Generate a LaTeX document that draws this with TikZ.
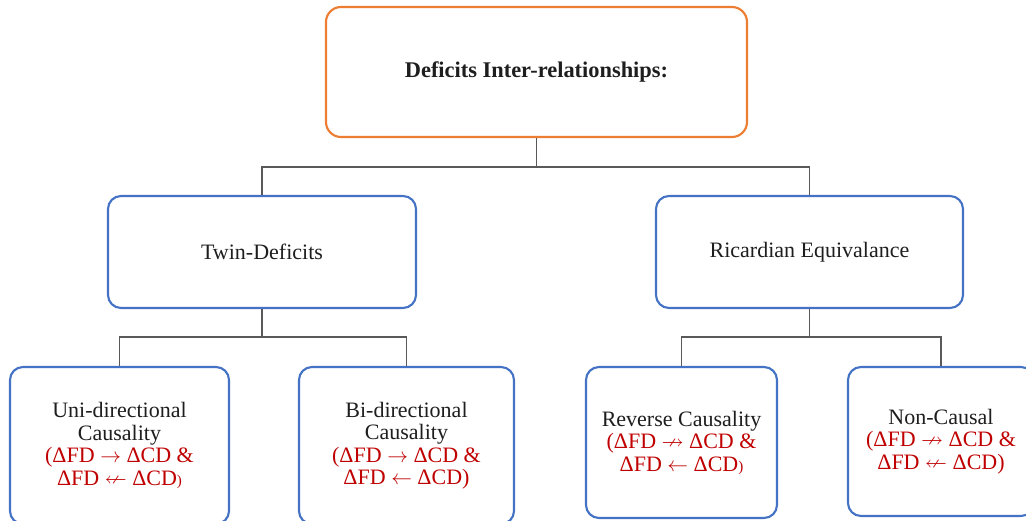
\documentclass[tikz,border=0pt]{standalone}
\usepackage{fontspec}
\usepackage{amssymb}
\setmainfont{Liberation Serif}
\definecolor{orng}{HTML}{ED7D31}
\definecolor{blu}{HTML}{4472C4}
\definecolor{redt}{HTML}{C00000}
\definecolor{conn}{HTML}{595959}
\definecolor{txt}{HTML}{1E1E1E}
\newcommand{\ra}{$\rightarrow$}
\newcommand{\la}{$\leftarrow$}
\newcommand{\nra}{$\nrightarrow$}
\newcommand{\nla}{$\nleftarrow$}
\newcommand{\smp}{{\fontsize{15}{15}\selectfont )}}
\begin{document}
\begin{tikzpicture}[x=1pt,y=1pt,
  box/.style={draw=blu, line width=2.1pt, rounded corners=13pt, rectangle, fill=white,
    align=center, text=txt, font=\fontsize{22}{22.5}\selectfont, inner sep=0pt},
  topbox/.style={box, draw=orng, rounded corners=15pt, font=\fontsize{22.4}{22.5}\selectfont},
  link/.style={draw=conn, line width=1.1pt}]
\useasboundingbox (0,0) rectangle (1026,520);
\node[topbox, minimum width=421pt, minimum height=130pt] (top) at (536.5,448) {\textbf{Deficits Inter-relationships:}};
\node[box, minimum width=308pt, minimum height=112pt] (twin) at (262,268) {Twin-Deficits};
\node[box, minimum width=307pt, minimum height=112pt] (ric) at (809.5,268) {Ricardian Equivalance};
\node[box, minimum width=219pt, minimum height=157pt] (uni) at (119.5,74.5)
  {Uni-directional\\Causality\\\textcolor{redt}{(ΔFD \ra{} ΔCD \&}\\\textcolor{redt}{ΔFD \nla{} ΔCD\smp}};
\node[box, minimum width=215pt, minimum height=157pt] (bi) at (406.5,74.5)
  {Bi-directional\\Causality\\\textcolor{redt}{(ΔFD \ra{} ΔCD \&}\\\textcolor{redt}{ΔFD \la{} ΔCD)}};
\node[box, minimum width=191pt, minimum height=151pt] (rev) at (681.5,77.5)
  {Reverse Causality\\\textcolor{redt}{(ΔFD \nra{} ΔCD \&}\\\textcolor{redt}{ΔFD \la{} ΔCD\smp}};
\node[box, minimum width=186pt, minimum height=149pt] (non) at (941,78.5)
  {Non-Causal\\\textcolor{redt}{(ΔFD \nra{} ΔCD \&}\\\textcolor{redt}{ΔFD \nla{} ΔCD)}};
\coordinate (j1) at (536.5,353);
\coordinate (j2) at (262,183);
\coordinate (j3) at (809.5,183);
\draw[link] (top.south) -- (j1);
\draw[link] (twin.north) |- (j1) -| (ric.north);
\draw[link] (twin.south) -- (j2);
\draw[link] (uni.north) |- (j2) -| (bi.north);
\draw[link] (ric.south) -- (j3);
\draw[link] (rev.north) |- (j3) -| (non.north);
\end{tikzpicture}
\end{document}
